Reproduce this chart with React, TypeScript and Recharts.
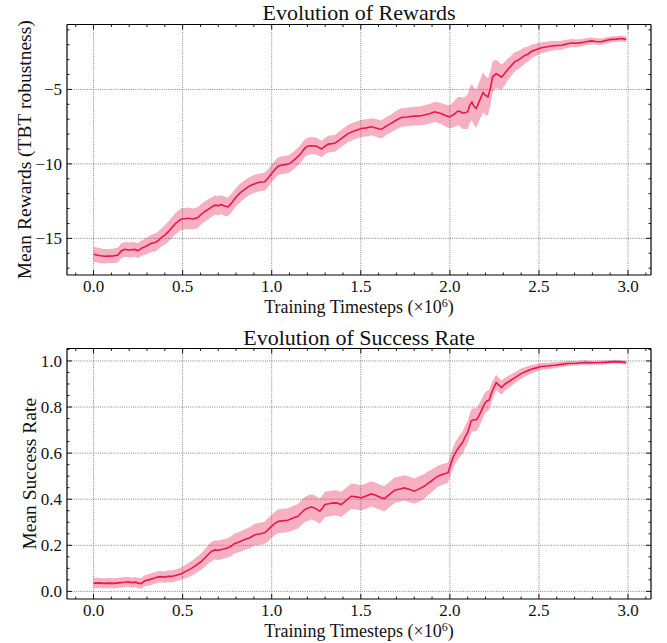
import React from "react";
import { Area, ComposedChart, Line, ReferenceLine, XAxis, YAxis } from "recharts";

const LINE = "#e8174c";
const FONT = "'Liberation Serif', 'DejaVu Serif', serif";
const TXT = { fontFamily: FONT } as const;

// timesteps in millions
const rewardSteps = [
  0, 0.03, 0.06, 0.08, 0.11, 0.137, 0.155, 0.175, 0.2, 0.23, 0.25, 0.268, 0.3, 0.324, 0.345, 0.36, 0.38, 0.4, 0.42,
  0.436, 0.46, 0.49, 0.51, 0.53, 0.56, 0.586, 0.605, 0.623, 0.65, 0.68, 0.7, 0.717, 0.74, 0.755, 0.775, 0.79, 0.81,
  0.83, 0.85, 0.867, 0.89, 0.92, 0.94, 0.96, 0.98, 1.0, 1.02, 1.036, 1.06, 1.09, 1.11, 1.13, 1.16, 1.185, 1.2, 1.22,
  1.25, 1.28, 1.3, 1.317, 1.354, 1.39, 1.43, 1.47, 1.504, 1.53, 1.56, 1.59, 1.615, 1.645, 1.67, 1.7, 1.727, 1.76, 1.8,
  1.83, 1.858, 1.89, 1.914, 1.95, 1.975, 1.998, 2.02, 2.045, 2.06, 2.073, 2.09, 2.1, 2.112, 2.124, 2.136, 2.148,
  2.165, 2.186, 2.2, 2.214, 2.228, 2.24, 2.26, 2.275, 2.29, 2.31, 2.326, 2.345, 2.363, 2.39, 2.42, 2.44, 2.457, 2.49,
  2.513, 2.54, 2.57, 2.6, 2.626, 2.655, 2.682, 2.71, 2.738, 2.765, 2.794, 2.82, 2.85, 2.88, 2.907, 2.935, 2.963, 2.99,
];
const rewardMean = [
  -16.07, -16.15, -16.2, -16.19, -16.18, -16.12, -15.85, -15.74, -15.78, -15.74, -15.82, -15.67, -15.5, -15.33,
  -15.28, -15.18, -14.95, -14.78, -14.55, -14.33, -14.0, -13.72, -13.68, -13.65, -13.7, -13.6, -13.38, -13.21, -13.0,
  -12.77, -12.8, -12.74, -12.85, -12.88, -12.62, -12.38, -12.1, -11.87, -11.7, -11.54, -11.4, -11.27, -11.22, -11.2,
  -10.95, -10.64, -10.35, -10.15, -10.08, -10.03, -9.9, -9.7, -9.35, -8.96, -8.82, -8.78, -8.8, -9.0, -8.8, -8.67,
  -8.62, -8.3, -7.95, -7.75, -7.62, -7.58, -7.51, -7.6, -7.69, -7.45, -7.28, -7.05, -6.88, -6.85, -6.79, -6.78, -6.72,
  -6.62, -6.5, -6.61, -6.75, -6.84, -6.7, -6.45, -6.5, -6.6, -6.55, -6.5, -6.05, -5.85, -6.15, -6.28, -5.8, -5.2,
  -5.4, -5.5, -4.9, -4.15, -3.95, -4.05, -4.17, -3.9, -3.65, -3.4, -3.15, -2.98, -2.72, -2.62, -2.45, -2.3, -2.2,
  -2.15, -2.08, -2.05, -2.03, -1.95, -1.88, -1.9, -1.86, -1.8, -1.74, -1.78, -1.8, -1.7, -1.64, -1.62, -1.58, -1.64,
];
const rewardStd = [
  0.5, 0.5, 0.48, 0.47, 0.48, 0.5, 0.5, 0.5, 0.5, 0.5, 0.5, 0.52, 0.55, 0.58, 0.6, 0.6, 0.62, 0.65, 0.68, 0.7, 0.72,
  0.73, 0.72, 0.72, 0.7, 0.7, 0.68, 0.68, 0.66, 0.65, 0.65, 0.64, 0.64, 0.63, 0.63, 0.63, 0.62, 0.62, 0.62, 0.6, 0.6,
  0.6, 0.6, 0.6, 0.6, 0.6, 0.6, 0.6, 0.6, 0.6, 0.6, 0.6, 0.6, 0.6, 0.58, 0.58, 0.57, 0.56, 0.56, 0.56, 0.56, 0.57,
  0.58, 0.58, 0.58, 0.58, 0.58, 0.6, 0.6, 0.6, 0.6, 0.62, 0.62, 0.62, 0.63, 0.64, 0.65, 0.66, 0.68, 0.7, 0.74, 0.78,
  0.85, 0.95, 1.0, 1.05, 1.1, 1.15, 1.2, 1.22, 1.25, 1.28, 1.3, 1.35, 1.3, 1.25, 1.15, 1.05, 0.95, 0.9, 0.85, 0.78,
  0.72, 0.68, 0.64, 0.6, 0.56, 0.5, 0.45, 0.4, 0.37, 0.35, 0.33, 0.3, 0.3, 0.28, 0.27, 0.26, 0.25, 0.24, 0.23, 0.22,
  0.22, 0.2, 0.2, 0.2, 0.2, 0.2,
];

const successSteps = [
  0, 0.03, 0.06, 0.09, 0.118, 0.15, 0.175, 0.193, 0.215, 0.235, 0.25, 0.268, 0.287, 0.31, 0.335, 0.36, 0.38, 0.4,
  0.42, 0.437, 0.465, 0.493, 0.52, 0.55, 0.575, 0.605, 0.625, 0.643, 0.66, 0.68, 0.7, 0.717, 0.735, 0.755, 0.775,
  0.79, 0.82, 0.848, 0.875, 0.905, 0.935, 0.96, 0.98, 1.0, 1.018, 1.036, 1.06, 1.09, 1.12, 1.148, 1.165, 1.185, 1.205,
  1.223, 1.245, 1.27, 1.285, 1.298, 1.32, 1.345, 1.37, 1.39, 1.42, 1.446, 1.475, 1.502, 1.53, 1.558, 1.58, 1.596,
  1.615, 1.633, 1.66, 1.69, 1.72, 1.745, 1.775, 1.8, 1.83, 1.858, 1.875, 1.895, 1.915, 1.933, 1.96, 1.99, 2.008, 2.02,
  2.036, 2.055, 2.073, 2.085, 2.1, 2.12, 2.135, 2.15, 2.165, 2.18, 2.195, 2.206, 2.22, 2.234, 2.25, 2.26, 2.275, 2.29,
  2.31, 2.337, 2.37, 2.4, 2.43, 2.457, 2.485, 2.513, 2.55, 2.588, 2.625, 2.663, 2.71, 2.757, 2.8, 2.85, 2.89, 2.925,
  2.96, 2.99,
];
const successMean = [
  0.036, 0.037, 0.035, 0.036, 0.035, 0.038, 0.04, 0.042, 0.038, 0.04, 0.036, 0.034, 0.046, 0.05, 0.056, 0.062, 0.064,
  0.062, 0.066, 0.065, 0.07, 0.077, 0.088, 0.1, 0.113, 0.13, 0.145, 0.16, 0.172, 0.18, 0.178, 0.182, 0.185, 0.189,
  0.198, 0.207, 0.215, 0.225, 0.232, 0.246, 0.25, 0.254, 0.268, 0.283, 0.295, 0.304, 0.306, 0.309, 0.318, 0.326,
  0.34, 0.355, 0.362, 0.367, 0.36, 0.348, 0.362, 0.377, 0.38, 0.384, 0.383, 0.377, 0.396, 0.413, 0.41, 0.406, 0.414,
  0.423, 0.418, 0.413, 0.406, 0.403, 0.42, 0.439, 0.444, 0.449, 0.442, 0.435, 0.446, 0.457, 0.468, 0.478, 0.49, 0.5,
  0.508, 0.515, 0.558, 0.585, 0.609, 0.63, 0.648, 0.67, 0.69, 0.74, 0.745, 0.745, 0.765, 0.79, 0.815, 0.825, 0.83,
  0.862, 0.89, 0.906, 0.895, 0.884, 0.9, 0.913, 0.93, 0.945, 0.955, 0.964, 0.97, 0.976, 0.978, 0.981, 0.985, 0.989,
  0.99, 0.993, 0.992, 0.993, 0.995, 0.997, 0.996, 0.993,
];
const successStd = [
  0.022, 0.022, 0.022, 0.022, 0.022, 0.022, 0.022, 0.022, 0.022, 0.022, 0.022, 0.023, 0.024, 0.025, 0.025, 0.025,
  0.025, 0.025, 0.026, 0.026, 0.026, 0.027, 0.03, 0.032, 0.034, 0.036, 0.038, 0.04, 0.042, 0.042, 0.042, 0.042, 0.042,
  0.042, 0.043, 0.043, 0.044, 0.045, 0.046, 0.047, 0.048, 0.048, 0.05, 0.05, 0.05, 0.052, 0.052, 0.052, 0.053, 0.053,
  0.054, 0.055, 0.055, 0.055, 0.055, 0.055, 0.055, 0.055, 0.055, 0.055, 0.055, 0.055, 0.055, 0.055, 0.055, 0.055,
  0.055, 0.055, 0.055, 0.055, 0.055, 0.055, 0.055, 0.055, 0.055, 0.055, 0.055, 0.055, 0.055, 0.054, 0.052, 0.05,
  0.048, 0.046, 0.045, 0.044, 0.045, 0.046, 0.047, 0.048, 0.048, 0.049, 0.05, 0.05, 0.05, 0.05, 0.05, 0.048, 0.046,
  0.045, 0.044, 0.04, 0.037, 0.034, 0.032, 0.03, 0.028, 0.026, 0.024, 0.022, 0.02, 0.018, 0.016, 0.015, 0.014, 0.013,
  0.012, 0.011, 0.01, 0.01, 0.009, 0.009, 0.008, 0.008, 0.008, 0.008,
];

const xMajor = [0, 0.5, 1, 1.5, 2, 2.5, 3];
const xDomain: [number, number] = [-0.149, 3.129];
const rewardMajor = [-15, -10, -5];
const rewardDomain: [number, number] = [-17.46, -0.64];
const successMajor = [0, 0.2, 0.4, 0.6, 0.8, 1.0];
const successDomain: [number, number] = [-0.033, 1.054];

function range(from: number, to: number, step: number) {
  const out: number[] = [];
  for (let v = from; v <= to + 1e-9; v += step) out.push(Math.round(v * 1000) / 1000);
  return out;
}

const xTicks = range(-0.1, 3.1, 0.1);
const rewardTicks = range(-17, -1, 1);
const successTicks = range(0, 1.05, 0.05);

const isMajor = (list: number[], v: number) => list.some((m) => Math.abs(m - v) < 1e-6);
const fmtNum = (v: number, digits: number) => (v < 0 ? "\u2212" : "") + Math.abs(v).toFixed(digits);

const PLOT_W = 584;
const PLOT_H = 250.5;

function makeRows(steps: number[], mean: number[], std: number[]) {
  return steps.map((t, i) => ({ t, mean: mean[i], band: [mean[i] - std[i], mean[i] + std[i]] }));
}

interface PanelProps {
  title: string;
  yLabel: string;
  rows: { t: number; mean: number; band: number[] }[];
  yDomain: [number, number];
  yTicks: number[];
  yMajor: number[];
  yDigits: number;
  height: number;
  top: number;
  titleTop: number;
  xAxisHeight: number;
  yLabelX: number;
  xLabelDy: number;
}

function Panel(p: PanelProps) {
  const xTick = (props: any) => {
    const { x, y, payload } = props;
    const major = isMajor(xMajor, payload.value);
    const len = major ? 5 : 2.5;
    return (
      <g>
        <line x1={x} x2={x} y1={y} y2={y - len} stroke="#000" strokeWidth={0.9} />
        <line x1={x} x2={x} y1={y - PLOT_H} y2={y - PLOT_H + len} stroke="#000" strokeWidth={0.9} />
        {major && (
          <text x={x} y={y + 17} textAnchor="middle" fontSize={17} style={TXT} fill="#111">
            {payload.value.toFixed(1)}
          </text>
        )}
      </g>
    );
  };
  const yTick = (props: any) => {
    const { x, y, payload } = props;
    const major = isMajor(p.yMajor, payload.value);
    const len = major ? 5 : 2.5;
    return (
      <g>
        <line x1={x} x2={x + len} y1={y} y2={y} stroke="#000" strokeWidth={0.9} />
        <line x1={x + PLOT_W} x2={x + PLOT_W - len} y1={y} y2={y} stroke="#000" strokeWidth={0.9} />
        {major && (
          <text x={x - 5} y={y} dy="0.35em" textAnchor="end" fontSize={17} style={TXT} fill="#111">
            {fmtNum(payload.value, p.yDigits)}
          </text>
        )}
      </g>
    );
  };
  const xLabel = (props: any) => {
    const vb = props.viewBox || {};
    return (
      <text x={vb.x + vb.width / 2} y={vb.y + p.xLabelDy} textAnchor="middle" fontSize={18} style={TXT} fill="#111">
        Training Timesteps ({"\u00d7"}10
        <tspan dy={-6} fontSize={12}>6</tspan>
        <tspan dy={6}>)</tspan>
      </text>
    );
  };
  const yLabel = (props: any) => {
    const vb = props.viewBox || {};
    const cy = vb.y + vb.height / 2;
    return (
      <text
        x={p.yLabelX}
        y={cy}
        textAnchor="middle"
        dy="0.35em"
        fontSize={19.5}
        style={TXT}
        fill="#111"
        transform={`rotate(-90 ${p.yLabelX} ${cy})`}
      >
        {p.yLabel}
      </text>
    );
  };

  return (
    <div style={{ position: "absolute", left: 0, top: p.top, width: 667, height: p.height }}>
      <div
        style={{
          position: "absolute",
          left: 67,
          width: PLOT_W,
          top: p.titleTop,
          textAlign: "center",
          fontSize: 22,
          lineHeight: "24px",
          fontFamily: FONT,
          color: "#111",
        }}
      >
        {p.title}
      </div>
      <ComposedChart
        width={667}
        height={p.height}
        data={p.rows}
        margin={{ top: p.height - p.xAxisHeight - PLOT_H, right: 16, bottom: 0, left: 7 }}
      >
        {xMajor.map((v) => (
          <ReferenceLine key={`gx${v}`} x={v} stroke="#666" strokeWidth={0.8} strokeDasharray="1 1.2" />
        ))}
        {p.yMajor.map((v) => (
          <ReferenceLine key={`gy${v}`} y={v} stroke="#666" strokeWidth={0.8} strokeDasharray="1 1.2" />
        ))}
        <Area
          type="linear"
          dataKey="band"
          stroke="none"
          fill={LINE}
          fillOpacity={0.34}
          isAnimationActive={false}
        />
        <Line type="linear" dataKey="mean" stroke={LINE} strokeWidth={1.6} dot={false} isAnimationActive={false} />
        <ReferenceLine y={p.yDomain[1]} stroke="#000" strokeWidth={1.2} />
        <ReferenceLine x={xDomain[1]} stroke="#000" strokeWidth={1.2} />
        <XAxis
          dataKey="t"
          type="number"
          domain={xDomain}
          allowDataOverflow
          ticks={xTicks}
          interval={0}
          tickSize={0}
          tickMargin={0}
          tickLine={false}
          height={p.xAxisHeight}
          axisLine={{ stroke: "#000", strokeWidth: 1.2 }}
          tick={xTick}
          label={xLabel}
        />
        <YAxis
          type="number"
          domain={p.yDomain}
          allowDataOverflow
          ticks={p.yTicks}
          interval={0}
          tickSize={0}
          tickMargin={0}
          tickLine={false}
          width={60}
          axisLine={{ stroke: "#000", strokeWidth: 1.2 }}
          tick={yTick}
          label={yLabel}
        />
      </ComposedChart>
    </div>
  );
}

export default function App() {
  return (
    <div style={{ position: "absolute", left: 0, top: 0, width: 667, height: 643, background: "#fff" }}>
      <Panel
        title="Evolution of Rewards"
        yLabel="Mean Rewards (TBT robustness)"
        rows={makeRows(rewardSteps, rewardMean, rewardStd)}
        yDomain={rewardDomain}
        yTicks={rewardTicks}
        yMajor={rewardMajor}
        yDigits={0}
        height={320}
        top={0}
        titleTop={1}
        xAxisHeight={45}
        yLabelX={24}
        xLabelDy={38}
      />
      <Panel
        title="Evolution of Success Rate"
        yLabel="Mean Success Rate"
        rows={makeRows(successSteps, successMean, successStd)}
        yDomain={successDomain}
        yTicks={successTicks}
        yMajor={successMajor}
        yDigits={1}
        height={323}
        top={320}
        titleTop={6}
        xAxisHeight={44}
        yLabelX={29}
        xLabelDy={38}
      />
    </div>
  );
}
